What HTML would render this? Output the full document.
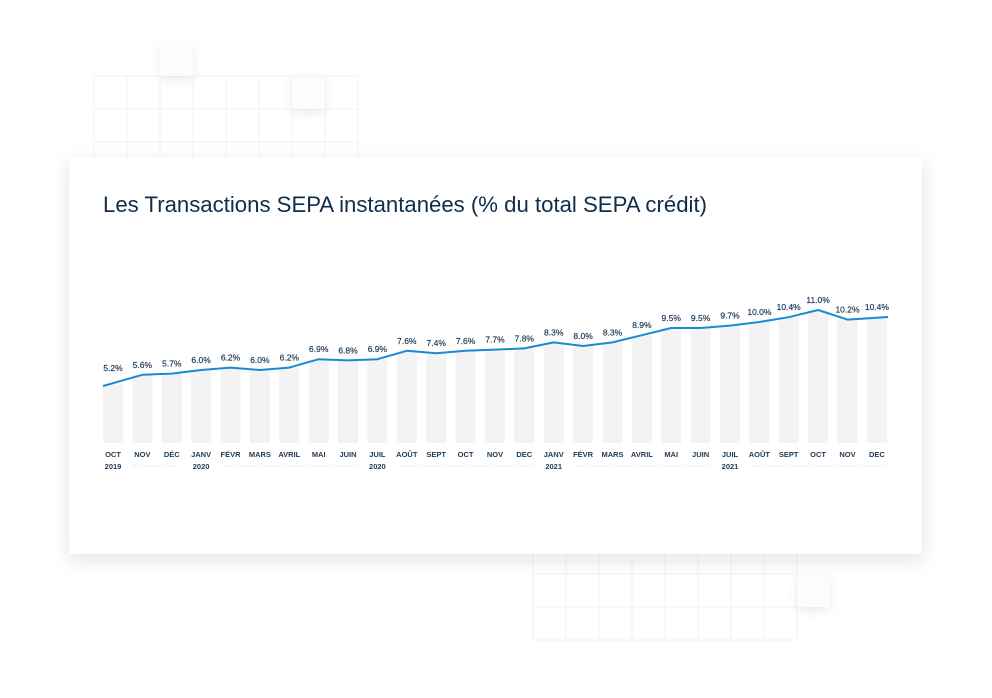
<!DOCTYPE html>
<html><head><meta charset="utf-8"><style>
html,body{margin:0;padding:0;background:#fff;}
svg{display:block;font-family:"Liberation Sans",sans-serif;}
</style></head><body>
<svg width="992" height="698" viewBox="0 0 992 698" xmlns="http://www.w3.org/2000/svg">
<defs>
<filter id="sh" x="-10%" y="-10%" width="120%" height="130%"><feDropShadow dx="0" dy="6" stdDeviation="9" flood-color="#1b2a3a" flood-opacity="0.12"/></filter>
<filter id="sh2" x="-50%" y="-50%" width="200%" height="200%"><feDropShadow dx="0" dy="4" stdDeviation="5" flood-color="#1b2a3a" flood-opacity="0.08"/></filter>
</defs>
<g stroke="#f1f2f4" stroke-width="1" fill="none">
<path d="M94 76H358M94 109H358M94 142H358M94 175H358M94 76V175M127 76V175M160 76V175M193 76V175M226 76V175M259 76V175M292 76V175M325 76V175M358 76V175"/>
<path d="M533 541H797M533 574H797M533 607H797M533 640H797M533 541V640M566 541V640M599 541V640M632 541V640M665 541V640M698 541V640M731 541V640M764 541V640M797 541V640"/>
</g>
<rect x="160" y="43" width="33" height="33" fill="#fcfcfd" filter="url(#sh2)"/>
<rect x="292" y="76" width="33" height="33" fill="#fcfcfd" filter="url(#sh2)"/>
<rect x="797" y="574" width="33" height="33" fill="#fcfcfd" filter="url(#sh2)"/>
<rect x="69" y="157" width="853" height="397" rx="3" fill="#fff" filter="url(#sh)"/>
<text x="103" y="212" font-size="22" fill="#0f2d4a" textLength="604" lengthAdjust="spacingAndGlyphs">Les Transactions SEPA instantanées (% du total SEPA crédit)</text>
<g fill="#f3f3f3">
<rect x="103" y="385" width="20" height="58"/>
<rect x="132.4" y="374.8" width="20" height="68.2"/>
<rect x="161.8" y="373.6" width="20" height="69.4"/>
<rect x="191.1" y="370" width="20" height="73"/>
<rect x="220.5" y="367.6" width="20" height="75.4"/>
<rect x="249.9" y="370" width="20" height="73"/>
<rect x="279.3" y="367.6" width="20" height="75.4"/>
<rect x="308.7" y="359.2" width="20" height="83.8"/>
<rect x="338" y="360.4" width="20" height="82.6"/>
<rect x="367.4" y="359.2" width="20" height="83.8"/>
<rect x="396.8" y="350.8" width="20" height="92.2"/>
<rect x="426.2" y="353.2" width="20" height="89.8"/>
<rect x="455.6" y="350.8" width="20" height="92.2"/>
<rect x="485" y="349.6" width="20" height="93.4"/>
<rect x="514.3" y="348.4" width="20" height="94.6"/>
<rect x="543.7" y="342.4" width="20" height="100.6"/>
<rect x="573.1" y="346" width="20" height="97"/>
<rect x="602.5" y="342.4" width="20" height="100.6"/>
<rect x="631.9" y="335.2" width="20" height="107.8"/>
<rect x="661.2" y="328" width="20" height="115"/>
<rect x="690.6" y="328" width="20" height="115"/>
<rect x="720" y="325.6" width="20" height="117.4"/>
<rect x="749.4" y="322" width="20" height="121"/>
<rect x="778.7" y="317.2" width="20" height="125.8"/>
<rect x="808.1" y="310" width="20" height="133"/>
<rect x="837.5" y="319.6" width="20" height="123.4"/>
<rect x="866.9" y="317.2" width="20" height="125.8"/>
</g>
<polyline fill="none" stroke="#1a8ad4" stroke-width="2" stroke-linejoin="round" points="103,386 142.4,374.8 171.8,373.6 201.1,370 230.5,367.6 259.9,370 289.3,367.6 318.7,359.2 348,360.4 377.4,359.2 406.8,350.8 436.2,353.2 465.6,350.8 495,349.6 524.3,348.4 553.7,342.4 583.1,346 612.5,342.4 641.9,335.2 671.2,328 700.6,328 730,325.6 759.4,322 788.7,317.2 818.1,310 847.5,319.6 888,317"/>
<g font-size="8.5" fill="#1f3a56" text-anchor="middle" stroke="#1f3a56" stroke-width="0.2">
<text x="113" y="371">5.2%</text>
<text x="142.4" y="367.8">5.6%</text>
<text x="171.8" y="366.6">5.7%</text>
<text x="201.1" y="363">6.0%</text>
<text x="230.5" y="360.6">6.2%</text>
<text x="259.9" y="363">6.0%</text>
<text x="289.3" y="360.6">6.2%</text>
<text x="318.7" y="352.2">6.9%</text>
<text x="348" y="353.4">6.8%</text>
<text x="377.4" y="352.2">6.9%</text>
<text x="406.8" y="343.8">7.6%</text>
<text x="436.2" y="346.2">7.4%</text>
<text x="465.6" y="343.8">7.6%</text>
<text x="495" y="342.6">7.7%</text>
<text x="524.3" y="341.4">7.8%</text>
<text x="553.7" y="335.4">8.3%</text>
<text x="583.1" y="339">8.0%</text>
<text x="612.5" y="335.4">8.3%</text>
<text x="641.9" y="328.2">8.9%</text>
<text x="671.2" y="321">9.5%</text>
<text x="700.6" y="321">9.5%</text>
<text x="730" y="318.6">9.7%</text>
<text x="759.4" y="315">10.0%</text>
<text x="788.7" y="310.2">10.4%</text>
<text x="818.1" y="303">11.0%</text>
<text x="847.5" y="312.6">10.2%</text>
<text x="876.9" y="310.2">10.4%</text>
</g>
<g font-size="7.5" font-weight="bold" fill="#1f3a56" text-anchor="middle">
<text x="113" y="457">OCT</text>
<text x="142.4" y="457">NOV</text>
<text x="171.8" y="457">DÉC</text>
<text x="201.1" y="457">JANV</text>
<text x="230.5" y="457">FÉVR</text>
<text x="259.9" y="457">MARS</text>
<text x="289.3" y="457">AVRIL</text>
<text x="318.7" y="457">MAI</text>
<text x="348" y="457">JUIN</text>
<text x="377.4" y="457">JUIL</text>
<text x="406.8" y="457">AOÛT</text>
<text x="436.2" y="457">SEPT</text>
<text x="465.6" y="457">OCT</text>
<text x="495" y="457">NOV</text>
<text x="524.3" y="457">DEC</text>
<text x="553.7" y="457">JANV</text>
<text x="583.1" y="457">FÉVR</text>
<text x="612.5" y="457">MARS</text>
<text x="641.9" y="457">AVRIL</text>
<text x="671.2" y="457">MAI</text>
<text x="700.6" y="457">JUIN</text>
<text x="730" y="457">JUIL</text>
<text x="759.4" y="457">AOÛT</text>
<text x="788.7" y="457">SEPT</text>
<text x="818.1" y="457">OCT</text>
<text x="847.5" y="457">NOV</text>
<text x="876.9" y="457">DEC</text>
<text x="113" y="469">2019</text>
<text x="201.1" y="469">2020</text>
<text x="377.4" y="469">2020</text>
<text x="553.7" y="469">2021</text>
<text x="730" y="469">2021</text>
</g>
<g stroke="#c9d0d6" stroke-width="0.7" stroke-dasharray="1 2">
<line x1="132" y1="466" x2="180" y2="466"/>
<line x1="222" y1="466" x2="358" y2="466"/>
<line x1="397" y1="466" x2="533" y2="466"/>
<line x1="574" y1="466" x2="710" y2="466"/>
<line x1="750" y1="466" x2="888" y2="466"/>
</g>
</svg>
</body></html>
